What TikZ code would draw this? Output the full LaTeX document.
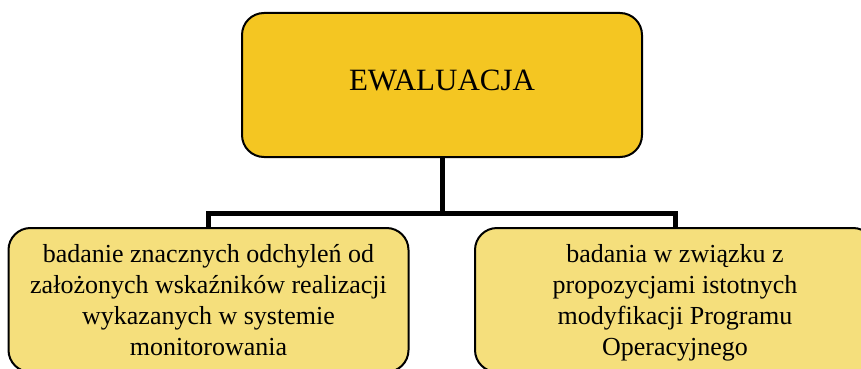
\documentclass[tikz,border=0pt]{standalone}
\usepackage{fontspec}
\setmainfont{Liberation Serif}
\definecolor{topfill}{HTML}{F4C622}
\definecolor{subfill}{HTML}{F5DF7C}
\begin{document}
\begin{tikzpicture}[x=1pt,y=-1pt,
  boxstyle/.style={draw=black,line width=2pt,rounded corners=22pt,minimum width=400pt,minimum height=144pt,inner sep=0pt,align=center},
  topbox/.style={boxstyle,fill=topfill,font=\fontsize{31}{36}\selectfont},
  subbox/.style={boxstyle,fill=subfill,text depth=0pt,font=\fontsize{26}{31}\selectfont},
  conn/.style={line width=5pt,line join=miter}]
\useasboundingbox (0,0) rectangle (861,369);
\clip (0,0) rectangle (861,369);
\node[topbox] (top) at (442,85) {\raisebox{10pt}{EWALUACJA}};
\node[subbox] (left) at (208.5,300) {badanie znacznych odchyleń od\\założonych wskaźników realizacji\\wykazanych w systemie\\monitorowania};
\node[subbox] (right) at (675,300) {badania w związku z\\propozycjami istotnych\\modyfikacji Programu\\Operacyjnego};
\coordinate (j) at (442,213);
\draw[conn] (top.south) -- (j);
\draw[conn] (left.north) |- (j) -| (right.north);
\end{tikzpicture}
\end{document}
